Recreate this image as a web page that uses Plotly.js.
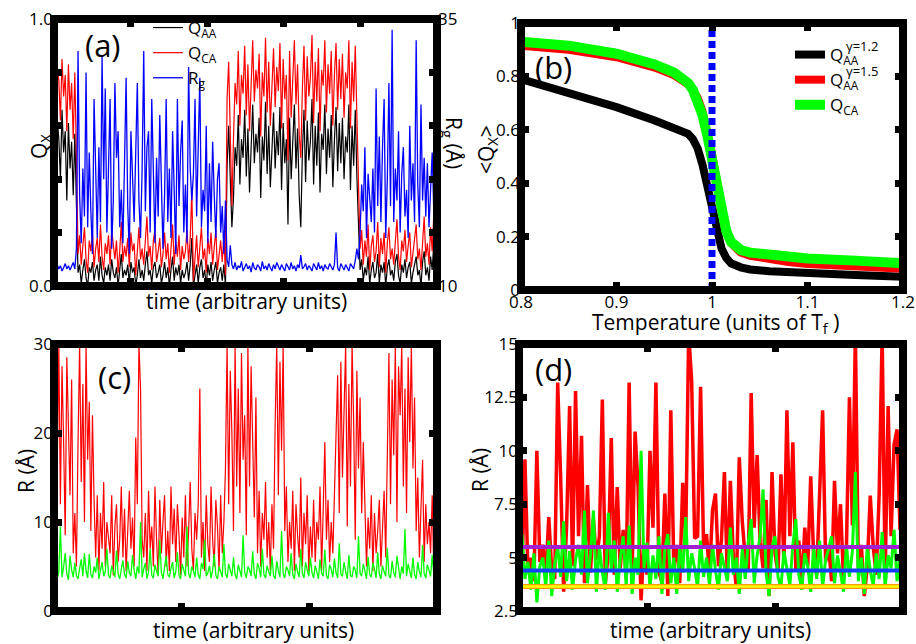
<!DOCTYPE html>
<html><head><meta charset="utf-8">
<script src="https://cdn.plot.ly/plotly-3.0.1.min.js"></script>
<style>html,body{margin:0;padding:0;background:#fff}#chart{width:916px;height:644px}</style>
</head><body><div id="chart"></div>
<script>
// ---------- Panel (a): order parameters and Rg vs time ----------
const qAA = [
 0.52,0.47,0.63,0.55,0.40,0.66,0.50,0.58,0.32,0.61,
 0.44,0.54,0.34,0.57,0.30,0.05,0.08,0.01,0.06,0.10,
 0.03,0.00,0.07,0.05,0.09,0.02,0.06,0.08,0.02,0.11,
 0.04,0.01,0.07,0.04,0.08,0.02,0.10,0.05,0.03,0.07,
 0.00,0.05,0.12,0.03,0.06,0.04,0.08,0.01,0.09,0.05,
 0.07,0.00,0.04,0.10,0.03,0.06,0.02,0.08,0.13,0.04,
 0.06,0.01,0.07,0.09,0.03,0.05,0.08,0.01,0.04,0.09,
 0.03,0.07,0.00,0.06,0.11,0.02,0.07,0.04,0.08,0.01,
 0.06,0.03,0.05,0.09,0.02,0.08,0.18,0.00,0.04,0.08,
 0.01,0.07,0.10,0.03,0.06,0.00,0.08,0.04,0.09,0.02,
 0.06,0.09,0.01,0.05,0.07,0.02,0.08,0.00,0.45,0.60,
 0.40,0.22,0.33,0.52,0.45,0.64,0.38,0.55,0.48,0.66,
 0.41,0.59,0.35,0.52,0.68,0.46,0.57,0.50,0.63,0.33,
 0.56,0.47,0.69,0.42,0.60,0.37,0.54,0.65,0.44,0.58,
 0.49,0.67,0.36,0.61,0.46,0.55,0.23,0.63,0.40,0.52,
 0.68,0.44,0.59,0.34,0.22,0.50,0.66,0.39,0.62,0.47,
 0.54,0.70,0.38,0.60,0.45,0.65,0.35,0.57,0.51,0.68,
 0.42,0.59,0.48,0.64,0.37,0.55,0.67,0.43,0.61,0.46,
 0.63,0.40,0.56,0.50,0.68,0.36,0.60,0.45,0.66,0.41,
 0.25,0.06,0.10,0.02,0.07,0.04,0.11,0.01,0.06,0.09,
 0.03,0.05,0.12,0.01,0.08,0.05,0.09,0.00,0.07,0.10,
 0.04,0.06,0.02,0.09,0.12,0.04,0.01,0.08,0.05,0.10,
 0.03,0.07,0.09,0.01,0.05,0.08,0.11,0.04,0.06,0.00,
 0.09,0.13,0.04,0.07,0.02,0.11,0.06,0.16,0.12,0.19];
const qCA = [
 0.74,0.68,0.82,0.77,0.62,0.85,0.71,0.79,0.58,0.83,
 0.66,0.76,0.55,0.80,0.48,0.12,0.19,0.08,0.15,0.22,
 0.10,0.05,0.17,0.13,0.20,0.07,0.14,0.18,0.09,0.23,
 0.11,0.06,0.16,0.12,0.19,0.08,0.21,0.14,0.10,0.17,
 0.05,0.13,0.24,0.09,0.15,0.11,0.18,0.07,0.20,0.13,
 0.16,0.04,0.12,0.22,0.10,0.14,0.08,0.19,0.26,0.11,
 0.15,0.06,0.17,0.21,0.09,0.13,0.18,0.07,0.12,0.20,
 0.10,0.16,0.05,0.14,0.23,0.08,0.17,0.11,0.19,0.06,
 0.15,0.10,0.13,0.21,0.09,0.18,0.36,0.02,0.12,0.19,
 0.07,0.16,0.22,0.10,0.14,0.05,0.18,0.12,0.20,0.08,
 0.15,0.21,0.06,0.13,0.17,0.09,0.19,0.04,0.70,0.84,
 0.62,0.30,0.55,0.76,0.68,0.88,0.60,0.79,0.72,0.90,
 0.64,0.83,0.58,0.77,0.92,0.69,0.81,0.74,0.87,0.56,
 0.80,0.71,0.93,0.65,0.84,0.60,0.78,0.89,0.67,0.82,
 0.73,0.91,0.59,0.85,0.70,0.79,0.47,0.88,0.63,0.76,
 0.92,0.68,0.83,0.57,0.48,0.74,0.90,0.62,0.86,0.71,
 0.78,0.94,0.61,0.84,0.69,0.89,0.58,0.81,0.75,0.92,
 0.65,0.83,0.72,0.88,0.60,0.79,0.91,0.66,0.85,0.70,
 0.87,0.63,0.80,0.74,0.92,0.59,0.84,0.69,0.90,0.64,
 0.42,0.14,0.21,0.08,0.17,0.11,0.23,0.06,0.15,0.19,
 0.09,0.13,0.24,0.07,0.18,0.12,0.20,0.05,0.16,0.22,
 0.10,0.14,0.08,0.19,0.25,0.11,0.06,0.17,0.13,0.21,
 0.09,0.15,0.20,0.07,0.12,0.18,0.23,0.10,0.14,0.06,
 0.19,0.26,0.11,0.16,0.08,0.22,0.13,0.27,0.18,0.21];
const rg = [
 11.8,11.5,12.0,11.6,11.9,11.4,11.7,12.1,11.6,11.9,
 11.5,11.8,12.2,11.6,13.5,32.0,18.5,14.0,21.0,16.5,
 30.0,15.5,22.5,17.0,13.0,27.5,19.5,14.5,23.0,16.0,
 31.5,20.0,28.5,15.0,21.0,27.5,13.5,18.0,29.0,22.0,
 24.5,15.5,19.0,14.0,21.5,29.5,17.5,13.0,24.5,20.0,
 16.0,22.5,29.0,18.0,14.5,21.0,32.0,17.0,23.0,24.5,
 15.0,27.5,19.5,14.0,22.0,16.5,26.0,20.0,13.5,18.5,
 27.5,16.0,21.0,14.5,24.5,19.0,13.0,27.5,17.5,22.5,
 25.5,15.0,19.5,14.0,30.5,21.0,18.0,20.5,27.5,16.5,
 22.0,29.5,15.5,19.0,17.0,25.0,14.0,21.5,16.0,23.5,
 18.5,14.5,20.0,21.5,15.0,17.5,13.0,18.0,12.5,11.8,
 13.8,12.0,11.6,12.2,11.5,11.9,11.7,12.3,11.4,11.8,
 12.1,11.6,11.9,11.3,12.2,11.7,11.5,12.0,11.8,11.4,
 12.3,11.6,11.9,11.5,12.1,11.7,11.4,12.0,11.6,12.2,
 11.8,11.5,12.0,11.7,11.4,12.1,11.8,11.5,12.2,11.6,
 11.9,11.4,12.0,11.7,12.9,11.6,11.8,12.1,11.5,11.9,
 11.7,11.4,12.1,11.8,11.5,12.2,11.6,11.9,11.4,12.0,
 11.7,11.6,12.1,11.8,11.5,12.0,15.0,11.7,11.4,12.1,
 11.8,11.5,12.0,11.7,11.4,12.1,11.8,11.6,12.4,13.5,
 12.5,15.0,19.5,17.0,23.0,14.5,20.5,18.5,16.0,21.0,
 15.0,28.5,17.5,24.0,16.0,23.0,27.5,14.5,20.0,29.0,
 17.5,34.0,16.0,21.0,18.0,24.5,15.0,20.5,23.0,16.5,
 19.0,14.5,25.0,18.0,21.5,16.0,33.0,19.5,15.5,27.0,
 18.0,22.0,16.5,21.5,15.5,19.0,22.5,17.0,20.0,23.0];

// ---------- Panel (b): <Q_X> vs temperature ----------
const temperature = [0.80,0.85,0.90,0.94,0.96,0.97,0.975,0.98,0.985,0.99,0.995,1.0,1.005,1.01,1.015,1.02,1.03,1.04,1.06,1.08,1.10,1.15,1.20];
const qAAg12 = [0.79,0.74,0.685,0.635,0.61,0.595,0.585,0.565,0.53,0.47,0.39,0.30,0.215,0.155,0.12,0.10,0.085,0.077,0.07,0.066,0.062,0.056,0.05];
const qAAg15 = [0.915,0.90,0.872,0.833,0.805,0.782,0.77,0.75,0.72,0.67,0.60,0.51,0.41,0.30,0.22,0.175,0.14,0.128,0.115,0.105,0.097,0.088,0.08];
const qCAavg = [0.93,0.915,0.885,0.845,0.815,0.79,0.775,0.75,0.71,0.655,0.58,0.49,0.39,0.29,0.22,0.18,0.15,0.14,0.13,0.123,0.118,0.11,0.10];
const foldingT = 1.0;

// ---------- Panel (c): R vs time ----------
const rRedC = [
 9.0,24.0,15.5,30.0,12.0,27.5,19.0,8.5,28.5,22.0,
 13.0,26.0,6.5,11.0,5.0,19.0,30.0,14.5,25.5,10.0,
 30.0,17.0,23.5,9.0,22.0,12.5,6.0,13.0,4.5,11.0,
 7.0,14.5,5.0,10.0,8.5,6.5,13.0,4.0,9.5,12.0,
 5.5,8.0,14.0,6.0,11.5,4.5,9.0,13.5,7.0,10.5,
 5.0,19.5,12.0,30.0,25.0,8.0,6.0,11.0,4.5,13.5,
 7.0,9.5,5.0,14.0,8.0,4.0,12.5,6.5,10.0,13.0,
 5.0,9.0,4.5,14.0,7.5,11.5,5.5,12.0,8.5,4.0,
 10.5,6.0,13.0,5.0,9.0,14.5,7.0,4.5,11.0,8.0,
 12.0,25.0,6.0,10.0,4.5,13.0,7.5,5.5,14.0,8.0,
 5.0,12.5,9.5,4.5,13.0,6.5,10.0,16.0,30.0,12.0,
 27.0,20.0,9.0,30.0,14.0,25.0,11.0,29.0,17.0,22.0,
 8.5,30.0,14.0,27.5,19.0,10.5,24.0,6.5,13.5,5.0,
 11.0,8.0,14.5,6.0,10.0,4.5,12.0,7.0,21.0,30.0,
 13.0,28.0,18.0,30.0,9.0,14.0,5.5,10.0,7.0,13.5,
 4.5,12.0,8.5,6.0,15.0,5.0,11.0,7.5,13.0,4.5,
 9.5,6.0,12.5,5.5,10.0,8.0,14.0,4.5,11.5,19.0,
 8.0,12.5,5.5,10.0,6.5,13.0,18.0,26.5,11.0,28.0,
 15.0,23.0,30.0,9.5,25.5,14.0,30.0,21.0,8.0,27.0,
 16.0,24.0,11.0,19.0,12.0,5.0,10.5,7.0,13.0,4.5,
 11.0,6.5,9.0,12.5,5.0,8.5,13.5,6.0,19.5,29.0,
 12.0,26.0,17.5,30.0,10.0,27.5,22.0,30.0,14.0,25.0,
 11.0,28.5,19.0,30.0,16.0,24.0,9.0,15.0,6.0,10.5,
 17.0,5.5,12.0,7.5,10.0,6.5,13.0,4.5,9.0,7.0];
const rGreenC = [
 4.0,5.2,3.6,4.4,9.5,3.8,5.0,6.5,4.2,3.5,
 6.2,4.6,3.8,5.4,4.0,3.6,4.8,5.8,3.9,6.5,
 4.5,3.7,6.4,4.1,3.7,5.0,4.3,6.0,3.6,4.7,
 5.5,3.9,4.4,7.0,4.0,3.7,5.1,4.5,3.8,6.8,
 4.2,3.6,4.9,5.7,4.1,3.7,5.6,4.3,3.9,6.3,
 4.6,3.6,5.0,4.2,10.0,3.8,4.7,5.4,3.6,4.4,
 7.0,4.0,3.7,5.2,4.5,3.9,8.0,4.3,3.6,5.0,
 6.2,4.1,3.8,4.8,5.5,3.7,4.4,6.6,4.0,3.6,
 5.3,4.6,3.9,9.5,4.2,3.7,5.0,4.5,3.8,6.0,
 4.1,3.6,5.4,4.7,8.0,3.9,4.3,5.1,3.7,4.6,
 6.4,4.0,3.6,5.0,4.4,3.8,7.5,4.2,3.7,5.3,
 4.6,3.9,6.0,4.1,3.6,5.2,4.5,3.8,8.5,4.3,
 3.7,5.0,4.6,3.9,6.7,4.2,3.6,5.4,4.8,3.8,
 7.0,4.1,3.7,5.1,4.4,3.9,6.2,4.0,3.6,5.6,
 4.5,3.8,9.0,4.2,3.7,5.0,4.6,3.9,6.5,4.1,
 3.6,5.3,4.4,3.8,7.0,4.2,3.7,5.5,4.6,3.9,
 6.0,4.3,3.7,5.1,4.4,3.6,5.8,4.2,3.9,6.9,
 4.0,3.6,5.2,4.7,3.8,5.9,4.3,3.7,7.6,4.1,
 3.9,5.5,4.4,3.6,6.3,4.0,3.8,5.0,4.6,3.7,
 8.4,4.2,3.9,5.3,4.5,3.6,6.1,4.1,3.8,5.4,
 4.7,3.7,6.6,4.2,3.6,5.1,4.4,3.9,7.1,4.0,
 3.7,5.6,4.3,3.8,6.2,4.5,3.6,5.0,4.2,9.2,
 3.9,5.3,4.6,3.7,6.0,4.1,3.6,5.5,4.4,3.8,
 7.4,4.2,3.7,5.2,4.6,3.9,6.3,4.1,3.6,5.0];

// ---------- Panel (d): R vs time (zoom) with reference levels ----------
const rRedD = [5.5,4.2,9.6,4.3,5.0,3.9,10.0,4.8,5.6,4.1, 6.9,4.4,4.0,13.2,8.7,3.4,6.5,12.1,4.6,12.8,
 6.0,10.7,3.8,8.4,4.3,6.8,4.9,6.0,12.4,3.8, 5.2,10.6,4.2,8.3,4.5,6.3,4.0,13.2,4.4,10.9,
 8.3,3.0,5.6,4.2,10.0,6.4,13.2,4.3,3.9,8.0, 3.2,11.9,4.6,5.6,3.8,8.5,5.8,15.5,13.3,5.9,
 6.0,13.0,5.5,6.1,4.2,7.2,8.0,4.6,5.8,9.0, 4.0,8.6,5.0,3.6,9.7,6.7,5.0,4.4,12.7,6.4,
 9.8,5.7,4.5,7.7,3.2,9.0,5.2,4.3,8.9,4.7, 11.9,6.0,10.4,4.4,5.8,3.6,6.4,4.6,8.8,5.0,
 4.2,8.4,11.9,4.8,5.6,3.9,8.6,5.2,7.5,4.0, 5.5,12.5,6.5,15.5,4.5,5.6,3.2,4.6,7.9,5.5,
 4.2,8.0,15.5,4.0,12.1,6.0,10.3,11.0,6.3,10.7];
const rGreenD = [5.6,6.1,4.0,4.8,3.5,5.2,2.9,4.6,5.0,3.6, 5.8,3.2,4.7,5.5,4.1,6.7,3.9,5.3,3.5,4.9,
 5.6,4.2,7.2,3.8,5.1,7.2,3.4,5.5,4.3,3.5, 7.1,4.4,5.8,3.4,4.9,6.0,3.7,6.5,3.3,5.0,
 4.2,10.0,4.5,5.7,3.6,5.1,4.0,6.0,3.3,5.4, 6.1,3.8,5.0,3.3,5.5,4.3,6.9,3.9,5.2,4.5,
 3.6,5.8,4.1,5.0,3.7,5.6,4.4,3.5,5.2,4.6, 3.9,6.4,4.2,5.0,3.3,5.4,4.0,5.7,6.8,3.8,
 5.1,6.0,8.2,4.3,3.2,5.5,6.0,4.1,3.6,5.3, 4.4,3.7,5.6,6.8,4.2,3.5,5.2,4.6,3.4,5.5,
 4.0,5.8,3.6,4.9,5.4,6.0,3.8,5.1,4.3,3.4, 5.6,4.1,5.3,9.0,3.9,5.0,3.3,5.5,4.4,3.7,
 5.2,4.0,6.2,3.6,5.1,4.5,6.3,3.9,5.0,5.8];
const refLevelPurple = 5.5;
const refLevelBlue = 4.4;
const refLevelYellow = 3.65;

// ---------- helpers ----------
const W = 916, H = 644;
const FONT = 'Open Sans, sans-serif';
const idx = a => a.map((_, i) => i);
const dx = (l, r) => [l / W, r / W];
const dy = (t, b) => [1 - b / H, 1 - t / H];
const fracTicks = (lo, hi, n) => { const v = []; for (let k = 1; k < n; k++) v.push(lo + (hi - lo) * k / n); return v; };

const tA = idx(qAA), tC = idx(rRedC), tD = idx(rRedD);
const nA = tA.length - 1, nC = tC.length - 1, nD = tD.length - 1;

const TICK = {ticks:'inside', ticklen:8, tickwidth:7, tickcolor:'#000'};
const baseAx = Object.assign({showgrid:false, zeroline:false, mirror:'ticks', showline:false,
  tickfont:{size:17, family:FONT, color:'#000'}, fixedrange:true}, TICK);
const ax = o => Object.assign({}, baseAx, o);

const traces = [
  // (a)
  {x:tA, y:qAA, xaxis:'x', yaxis:'y', type:'scatter', mode:'lines', name:'Q<sub>AA</sub>', line:{color:'#000000', width:1.2}, legend:'legend'},
  {x:tA, y:qCA, xaxis:'x', yaxis:'y', type:'scatter', mode:'lines', name:'Q<sub>CA</sub>', line:{color:'#ff0000', width:1.2}, legend:'legend'},
  {x:tA, y:rg, xaxis:'x', yaxis:'y2', type:'scatter', mode:'lines', name:'R<sub>g</sub>', line:{color:'#0000ff', width:1.3}, legend:'legend'},
  // (b)
  {x:temperature, y:qAAg12, xaxis:'x2', yaxis:'y3', type:'scatter', mode:'lines', name:'Q<sub>AA</sub>', line:{color:'#000000', width:8}, legend:'legend2'},
  {x:temperature, y:qAAg15, xaxis:'x2', yaxis:'y3', type:'scatter', mode:'lines', name:'Q<sub>AA</sub>', line:{color:'#ff0000', width:8}, legend:'legend2'},
  {x:temperature, y:qCAavg, xaxis:'x2', yaxis:'y3', type:'scatter', mode:'lines', name:'Q<sub>CA</sub>', line:{color:'#00ff00', width:10}, legend:'legend2'},
  {x:[foldingT, foldingT], y:[0, 1], xaxis:'x2', yaxis:'y3', type:'scatter', mode:'lines', showlegend:false, line:{color:'#0000ff', width:7, dash:'7px,4px'}},
  // (c)
  {x:tC, y:rRedC, xaxis:'x3', yaxis:'y4', type:'scatter', mode:'lines', showlegend:false, line:{color:'#ff0000', width:1.2}},
  {x:tC, y:rGreenC, xaxis:'x3', yaxis:'y4', type:'scatter', mode:'lines', showlegend:false, line:{color:'#00ff00', width:1.3}},
  // (d)
  {x:tD, y:rRedD, xaxis:'x4', yaxis:'y5', type:'scatter', mode:'lines', showlegend:false, line:{color:'#ff0000', width:3.5}},
  {x:tD, y:rGreenD, xaxis:'x4', yaxis:'y5', type:'scatter', mode:'lines', showlegend:false, line:{color:'#00ff00', width:3}},
  {x:[0, nD], y:[refLevelPurple, refLevelPurple], xaxis:'x4', yaxis:'y5', type:'scatter', mode:'lines', showlegend:false, line:{color:'#a21fd4', width:4}},
  {x:[0, nD], y:[refLevelBlue, refLevelBlue], xaxis:'x4', yaxis:'y5', type:'scatter', mode:'lines', showlegend:false, line:{color:'#1040ff', width:4}},
  {x:[0, nD], y:[refLevelYellow, refLevelYellow], xaxis:'x4', yaxis:'y5', type:'scatter', mode:'lines', showlegend:false, line:{color:'#ff9a00', width:5}},
  {x:[0, nD], y:[refLevelYellow, refLevelYellow], xaxis:'x4', yaxis:'y5', type:'scatter', mode:'lines', showlegend:false, line:{color:'#ffff00', width:2.5}}
];

const frame = (xr, yr) => ({type:'rect', xref:xr + ' domain', yref:yr + ' domain', x0:0, x1:1, y0:0, y1:1,
  line:{color:'#000', width:8}, fillcolor:'rgba(0,0,0,0)', layer:'above'});
const txt = (text, px, py, size, angle, xanchor) => ({text, xref:'paper', yref:'paper', x:px / W, y:1 - py / H,
  xanchor:xanchor || 'center', yanchor:'middle', showarrow:false, textangle:angle || 0, font:{size, family:FONT, color:'#000'}});
const minorTicks = vals => Object.assign({tickvals:vals, showgrid:false}, TICK);

const layout = {
  width:W, height:H, margin:{l:0, r:0, t:0, b:0}, paper_bgcolor:'#fff', plot_bgcolor:'#fff',
  font:{family:FONT, color:'#000'},
  // (a)
  xaxis: ax({domain:dx(54,437), range:[0,nA], anchor:'y', tickvals:fracTicks(0,nA,5), showticklabels:false}),
  yaxis: ax({domain:dy(19,286), range:[0,1], anchor:'x', tickvals:[0,1], ticktext:['0.0','1.0'], minor:minorTicks([0.2,0.4,0.6,0.8])}),
  yaxis2: ax({overlaying:'y', side:'right', anchor:'x', range:[10,35], tickvals:[10,35], ticktext:['10','35'], ticks:'', mirror:false}),
  // (b)
  xaxis2: ax({domain:dx(521,903), range:[0.8,1.2], anchor:'y3', tickvals:[0.8,0.9,1.0,1.1,1.2], ticktext:['0.8','0.9','1','1.1','1.2']}),
  yaxis3: ax({domain:dy(23,290), range:[0,1], anchor:'x2', tickvals:[0,0.2,0.4,0.6,0.8,1], ticktext:['0','0.2','0.4','0.6','0.8','1']}),
  // (c)
  xaxis3: ax({domain:dx(54,437), range:[0,nC], anchor:'y4', tickvals:fracTicks(0,nC,3), showticklabels:false}),
  yaxis4: ax({domain:dy(344,611), range:[0,30], anchor:'x3', tickvals:[0,10,20,30], ticktext:['0','10','20','30']}),
  // (d)
  xaxis4: ax({domain:dx(519,903), range:[0,nD], anchor:'y5', tickvals:fracTicks(0,nD,3), showticklabels:false}),
  yaxis5: ax({domain:dy(344,611), range:[2.5,15], anchor:'x4', tickvals:[2.5,5,7.5,10,12.5,15], ticktext:['2.5','5','7.5','10','12.5','15']}),
  showlegend:true,
  legend:{x:148/W, y:1 - 10/H, xanchor:'left', yanchor:'top', bgcolor:'rgba(0,0,0,0)', borderwidth:0,
    font:{size:17, family:FONT, color:'#000'}, tracegroupgap:0},
  legend2:{x:790/W, y:1 - 37/H, xanchor:'left', yanchor:'top', bgcolor:'rgba(0,0,0,0)', borderwidth:0,
    font:{size:17, family:FONT, color:'#000'}, tracegroupgap:0},
  shapes:[frame('x','y'), frame('x2','y3'), frame('x3','y4'), frame('x4','y5')],
  annotations:[
    txt('(a)', 103, 45, 31),
    txt('(b)', 553, 67, 31),
    txt('(c)', 115, 377, 31),
    txt('(d)', 553, 369, 31),
    txt('time (arbitrary units)', 246, 301, 21),
    txt('Q<sub>X</sub>', 40, 147, 21, -90),
    txt('R<sub>g</sub> (Å)', 453, 143, 21, 90),
    txt('Temperature (units of T<sub>f</sub> )', 715, 323, 21),
    txt('&lt;Q<sub>X</sub>&gt;', 487, 150, 21, -90),
    txt('time (arbitrary units)', 254, 630, 21),
    txt('R (Å)', 26, 471, 21, -90),
    txt('time (arbitrary units)', 710, 630, 21),
    txt('R (Å)', 480, 470, 21, -90),
    txt('γ=1.2', 844, 46, 13, 0, 'left'),
    txt('γ=1.5', 844, 71, 13, 0, 'left')
  ]
};

Plotly.newPlot('chart', traces, layout, {staticPlot:true, displayModeBar:false});
</script></body></html>
